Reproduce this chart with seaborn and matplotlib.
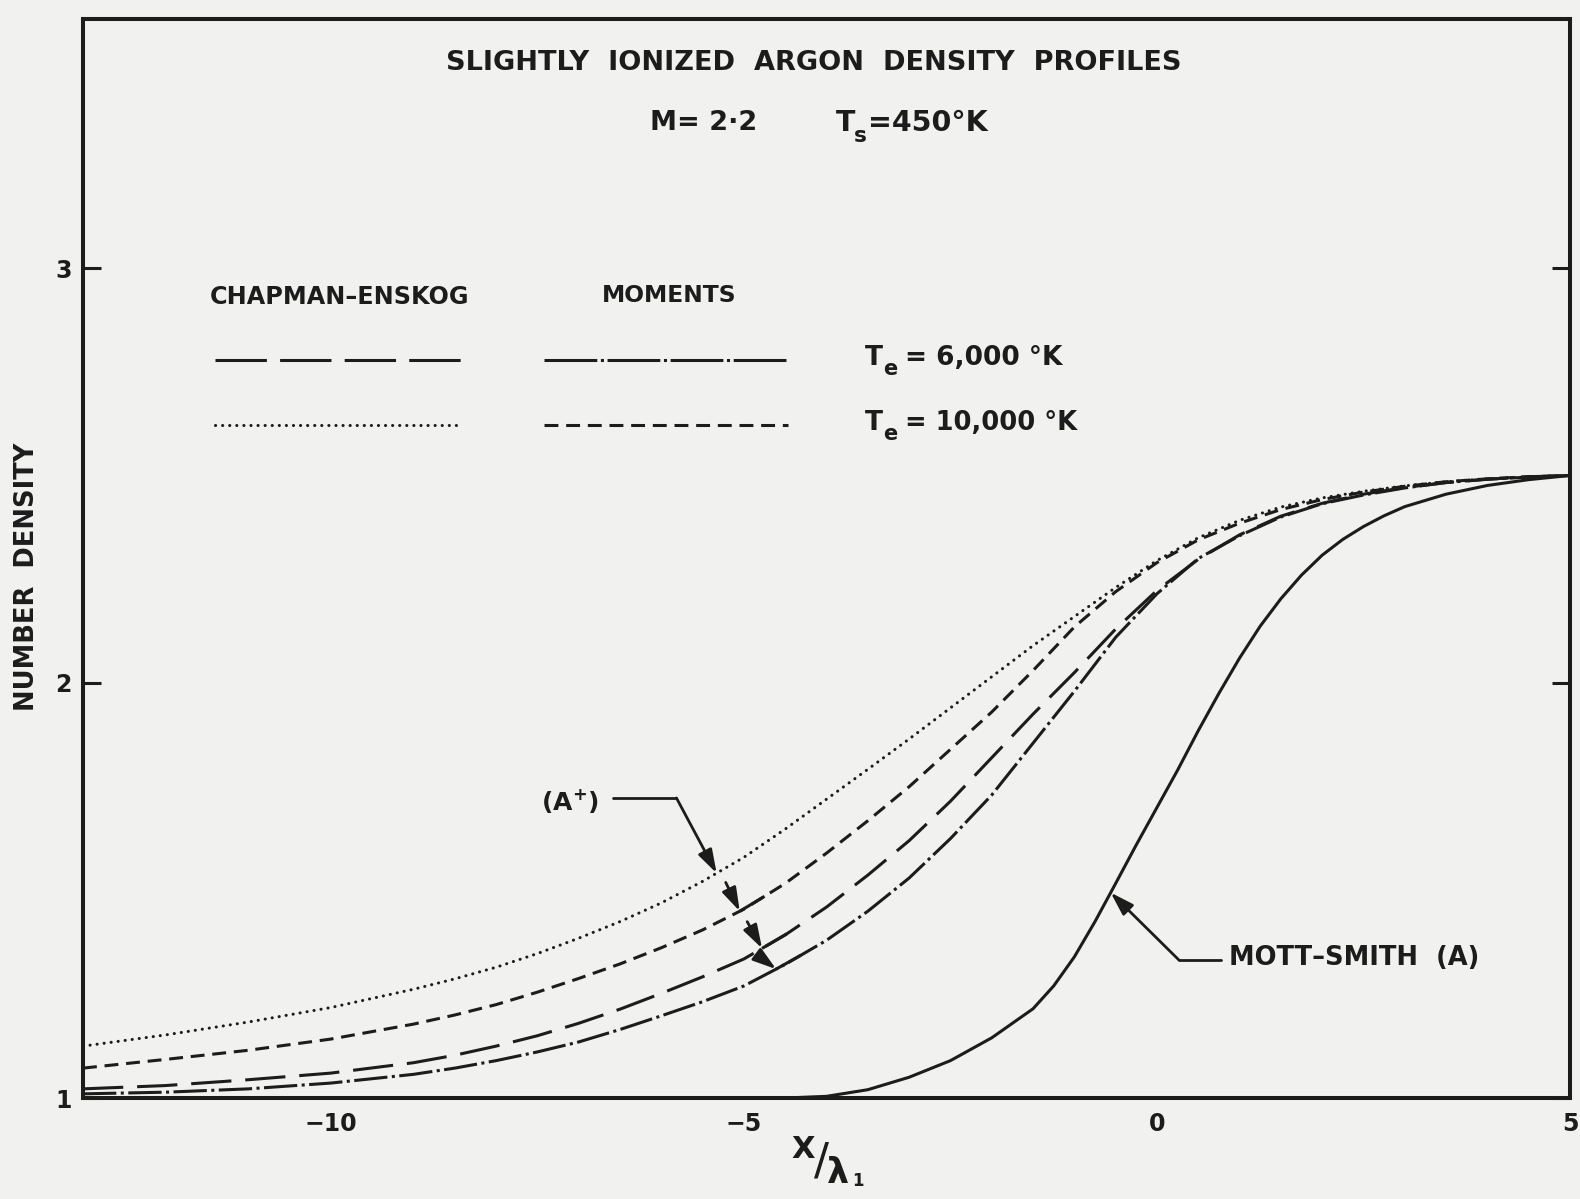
import numpy as np
import matplotlib
matplotlib.use("Agg")
import matplotlib.pyplot as plt
import seaborn as sns

# ---- data -------------------------------------------------------------
x_grid = [-13, -12, -11, -10, -9, -8.5, -8, -7.5, -7, -6.5, -6, -5.5, -5,
          -4.5, -4, -3.5, -3, -2.5, -2, -1.5, -1, -0.5, 0, 0.5, 1, 1.5, 2,
          2.5, 3, 3.5, 4, 4.5, 5]

# Chapman-Enskog, Te = 10,000 K (dotted)
ce_10000 = [1.125, 1.152, 1.183, 1.218, 1.262, 1.287, 1.315, 1.348, 1.385,
            1.425, 1.47, 1.522, 1.58, 1.648, 1.72, 1.792, 1.865, 1.94, 2.015,
            2.09, 2.16, 2.23, 2.295, 2.35, 2.392, 2.424, 2.446, 2.462, 2.475,
            2.485, 2.492, 2.497, 2.5]
# Moments, Te = 10,000 K (short dash)
mom_10000 = [1.072, 1.093, 1.115, 1.142, 1.178, 1.2, 1.225, 1.255, 1.288,
             1.323, 1.362, 1.405, 1.455, 1.517, 1.59, 1.668, 1.75, 1.84, 1.93,
             2.03, 2.135, 2.22, 2.29, 2.345, 2.385, 2.418, 2.442, 2.46, 2.474,
             2.485, 2.492, 2.497, 2.5]
# Chapman-Enskog, Te = 6,000 K (long dash)
ce_6000 = [1.022, 1.03, 1.044, 1.06, 1.085, 1.103, 1.125, 1.15, 1.18, 1.214,
           1.252, 1.292, 1.335, 1.393, 1.46, 1.537, 1.62, 1.715, 1.82, 1.925,
           2.025, 2.13, 2.223, 2.298, 2.357, 2.402, 2.433, 2.455, 2.471, 2.483,
           2.491, 2.497, 2.5]
# Moments, Te = 6,000 K (dash-dot)
mom_6000 = [1.01, 1.014, 1.022, 1.036, 1.057, 1.072, 1.09, 1.111, 1.135,
            1.165, 1.198, 1.232, 1.27, 1.322, 1.38, 1.45, 1.53, 1.625, 1.73,
            1.855, 1.98, 2.11, 2.215, 2.30, 2.355, 2.40, 2.432, 2.453, 2.47,
            2.483, 2.491, 2.496, 2.5]

# Mott-Smith neutral argon profile (solid)
x_ms = [-13, -10, -7, -5, -4.5, -4, -3.5, -3, -2.5, -2, -1.5, -1.25, -1,
        -0.75, -0.5, -0.25, 0, 0.25, 0.5, 0.75, 1, 1.25, 1.5, 1.75, 2, 2.25,
        2.5, 2.75, 3, 3.5, 4, 4.5, 5]
mott_smith = [1.0, 1.0, 1.0, 1.0, 1.0, 1.004, 1.02, 1.05, 1.09, 1.145, 1.215,
              1.27, 1.34, 1.425, 1.517, 1.61, 1.70, 1.79, 1.885, 1.975, 2.06,
              2.137, 2.203, 2.26, 2.308, 2.346, 2.377, 2.403, 2.425, 2.455,
              2.476, 2.49, 2.5]

x_ticks = [-10, -5, 0, 5]
x_ticklabels = ["\u221210", "\u22125", "0", "5"]
y_ticks = [1, 2, 3]
y_ticklabels = ["1", "2", "3"]

# ---- style ------------------------------------------------------------
W, H = 1580, 1199
INK = "#1c1c1c"
PAPER = "#f1f1ef"

sns.set_theme(style="white")
plt.rcParams["font.family"] = ["DejaVu Sans"]
plt.rcParams["lines.scale_dashes"] = False
plt.rcParams["lines.dash_capstyle"] = "butt"

LW = 2.2
STY_CE_6000 = (0, (29, 10))
STY_MOM_6000 = (0, (24, 3.2, 2.2, 3.2))
STY_CE_10000 = (0, (0.1, 5.0))
STY_MOM_10000 = (0, (10, 5.6))
# key samples use somewhat longer strokes
KEY_CE_6000 = (0, (37, 9.5))
KEY_MOM_6000 = (0, (38, 2.6, 2.2, 2.6))

fig = plt.figure(figsize=(W / 100, H / 100), dpi=100, facecolor=PAPER)
ax = fig.add_axes([83 / W, 1 - 1098 / H, (1570 - 83) / W, (1098 - 19) / H])
ax.set_facecolor(PAPER)


def curve(xs, ys, style, cap="butt"):
    sns.lineplot(x=xs, y=ys, ax=ax, color=INK, lw=LW, linestyle=style,
                 sort=False, estimator=None, legend=False)
    ln = ax.lines[-1]
    ln.set_dash_capstyle(cap)
    ln.set_solid_capstyle("round")
    ln.set_solid_joinstyle("round")


curve(x_grid, ce_10000, STY_CE_10000, cap="round")
curve(x_grid, mom_10000, STY_MOM_10000)
curve(x_grid, ce_6000, STY_CE_6000)
curve(x_grid, mom_6000, STY_MOM_6000)
curve(x_ms, mott_smith, "-")

ax.set_xlim(-13, 5)
ax.set_ylim(1, 3.6)
ax.set_xlabel("")
ax.set_ylabel("")

for sp in ax.spines.values():
    sp.set_linewidth(2.9)
    sp.set_color(INK)

tick_font = dict(fontsize=17, fontweight="bold", color=INK)
ax.set_xticks(x_ticks)
ax.set_xticklabels(x_ticklabels, **tick_font)
ax.set_xticks(np.arange(-12, 5, 1), minor=True)
ax.set_yticks(y_ticks)
ax.set_yticklabels(y_ticklabels, **tick_font)
ax.tick_params(axis="x", which="major", direction="in", length=12, width=2.2,
               color=INK, pad=10, top=False)
ax.tick_params(axis="x", which="minor", direction="in", length=8.5, width=2.2,
               color=INK, top=False)
ax.tick_params(axis="y", which="major", direction="in", length=13, width=2.2,
               color=INK, pad=8, left=True, right=True, labelright=False)


def ftext(px, py, s, size, ha="left", va="center", weight="bold", **kw):
    fig.text(px / W, 1 - py / H, s, fontsize=size, fontweight=weight,
             color=INK, ha=ha, va=va, **kw)


# titles
ftext(814, 63, "SLIGHTLY  IONIZED  ARGON  DENSITY  PROFILES", 19.5, ha="center")
ftext(650, 123, "M= 2\u00b72", 19.5)
ftext(836, 123, "T", 20.5)
ftext(854, 136, "s", 15.5)
ftext(868, 123, "=450\u00b0K", 20.5)

# key
ftext(210, 297, "CHAPMAN\u2013ENSKOG", 17.2)
ftext(602, 295, "MOMENTS", 16.8)
ftext(865, 358, "T", 19)
ftext(883, 369, "e", 15)
ftext(905, 358, "= 6,000 \u00b0K", 19)
ftext(865, 423, "T", 19)
ftext(883, 434, "e", 15)
ftext(905, 423, "= 10,000 \u00b0K", 18.5)


def px2data(px, py):
    return ((px - 1158) / 82.7, 1 + (1098 - py) / 415.0)


key_rows = [(360, KEY_CE_6000, KEY_MOM_6000, "butt"),
            (425, STY_CE_10000, STY_MOM_10000, "round")]
for py, s_ce, s_mom, cap in key_rows:
    (xa, yk), (xb, _) = px2data(215, py), px2data(461, py)
    ln, = ax.plot([xa, xb], [yk, yk], color=INK, lw=LW, linestyle=s_ce)
    ln.set_dash_capstyle(cap)
    (xa, _), (xb, _) = px2data(544, py), px2data(789, py)
    ax.plot([xa, xb], [yk, yk], color=INK, lw=LW, linestyle=s_mom)

# axis labels
ftext(27, 577, "NUMBER  DENSITY", 18.5, ha="center", rotation=90)
ftext(803, 1150, "X", 22, ha="center")
ftext(821, 1162, "/", 32, ha="center", weight="normal")
ftext(838, 1173, "\u03bb", 25, ha="center")
ftext(858, 1181, "1", 12, ha="center")

# (A+) annotation: chain of arrows down through the four ion profiles
arrow_kw = dict(arrowstyle="-|>,head_length=0.95,head_width=0.3",
                mutation_scale=15, lw=2.0, color=INK, shrinkA=0, shrinkB=0)
ftext(541, 801, "(A$^{\\mathbf{+}}$)", 18)

x_tip1 = -5.33
y_tip1 = np.interp(x_tip1, x_grid, ce_10000)
p_start = px2data(613, 798)
p_corner = px2data(677, 798)
ax.plot([p_start[0], p_corner[0]], [p_start[1], p_corner[1]], color=INK, lw=2.0)
ax.annotate("", xy=(x_tip1, y_tip1), xytext=p_corner, arrowprops=arrow_kw)

chain = [(-5.22, ce_10000, -5.05, mom_10000),
         (-4.96, mom_10000, -4.78, ce_6000),
         (-4.74, ce_6000, -4.61, mom_6000)]
for xs_, ys_from, xe_, ys_to in chain:
    y0 = np.interp(xs_, x_grid, ys_from) - 0.035
    y1 = np.interp(xe_, x_grid, ys_to)
    ax.annotate("", xy=(xe_, y1), xytext=(xs_, y0), arrowprops=arrow_kw)
    ax.plot([xe_, xe_ + 0.3], [y1, np.interp(xe_ + 0.3, x_grid, ys_to)],
            color=INK, lw=LW, solid_capstyle="butt")

# Mott-Smith annotation
x_ms_tip = -0.56
y_ms_tip = np.interp(x_ms_tip, x_ms, mott_smith)
m_corner = px2data(1180, 960)
m_end = px2data(1222, 960)
ax.plot([m_corner[0], m_end[0]], [m_corner[1], m_end[1]], color=INK, lw=2.0)
ax.annotate("", xy=(x_ms_tip, y_ms_tip), xytext=m_corner, arrowprops=arrow_kw)
ftext(1229, 958, "MOTT\u2013SMITH  (A)", 18.5)

fig.savefig("out.png", dpi=100, facecolor=PAPER)
